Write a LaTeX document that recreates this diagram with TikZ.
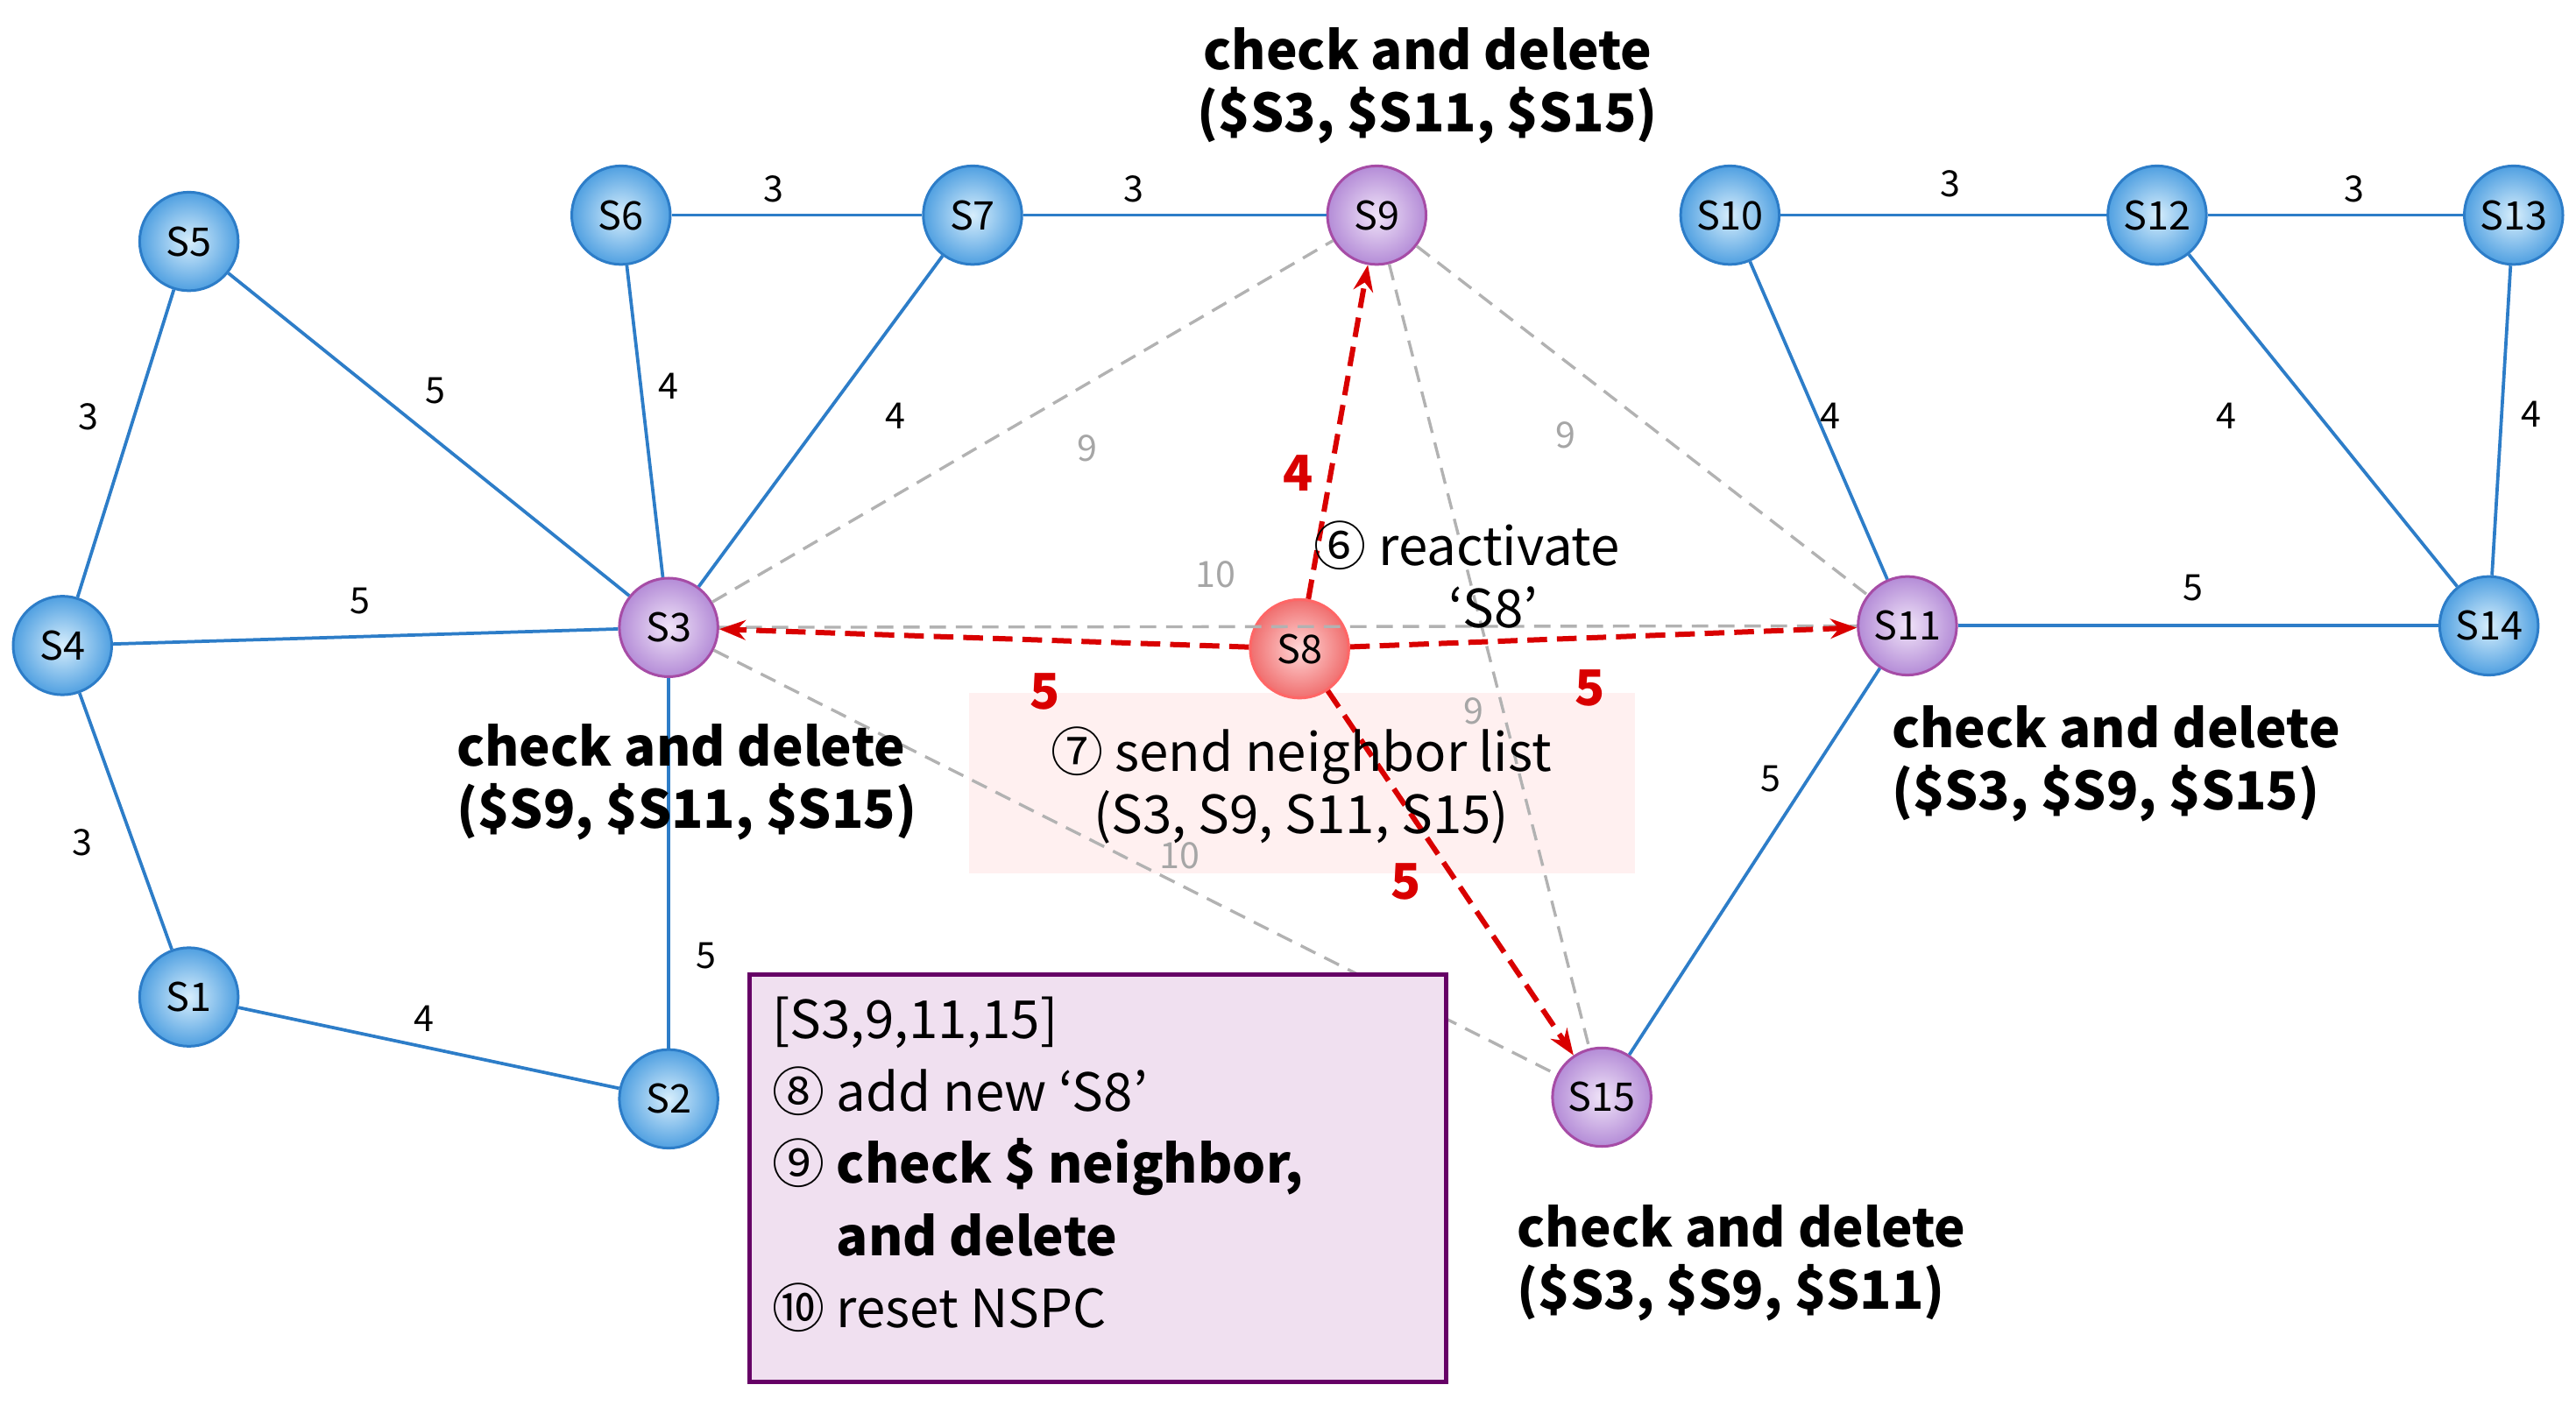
\documentclass[tikz,border=0pt]{standalone}
\usepackage{fontspec}
\setmainfont{Noto Sans CJK KR}
\usetikzlibrary{arrows.meta}
\definecolor{ln}{RGB}{45,125,200}
\definecolor{bin}{RGB}{215,238,252}
\definecolor{bout}{RGB}{80,160,225}
\definecolor{pin}{RGB}{240,228,248}
\definecolor{pout}{RGB}{180,140,215}
\definecolor{rin}{RGB}{255,215,215}
\definecolor{rout}{RGB}{240,110,110}
\begin{document}
\begin{tikzpicture}[x=0.5pt,y=-0.5pt,
 bn/.style={circle,minimum size=30pt,inner sep=0pt,draw=ln,line width=0.8pt,shading=radial,inner color=bin,outer color=bout,font=\fontsize{12}{12}\selectfont},
 pn/.style={bn,draw=violet!70,inner color=pin,outer color=pout},
 rn/.style={bn,draw=red!60,inner color=rin,outer color=rout},
 be/.style={draw=ln,line width=1pt},
 ge/.style={draw=gray!60,dash pattern=on 5pt off 3pt,line width=0.9pt},
 re/.style={draw=red!85!black,dash pattern=on 6pt off 3pt,line width=1.6pt,-{Stealth[length=8pt]}},
 el/.style={font=\fontsize{11}{11}\selectfont},
 gl/.style={font=\fontsize{11}{11}\selectfont,text=gray!70},
 rl/.style={font=\bfseries\fontsize{15}{15}\selectfont,text=red!85!black},
 cd/.style={font=\bfseries\fontsize{16}{19}\selectfont,align=left}]
\useasboundingbox (0,0) rectangle (1568,860);
\fill[red!6] (590,422) rectangle (995,532);
\node (S5) [bn] at (115,147) {S5};
\node (S6) [bn] at (378,131) {S6};
\node (S7) [bn] at (592,131) {S7};
\node (S9) [pn] at (838,131) {S9};
\node (S10) [bn] at (1053,131) {S10};
\node (S12) [bn] at (1313,131) {S12};
\node (S13) [bn] at (1530,131) {S13};
\node (S4) [bn] at (38,393) {S4};
\node (S3) [pn] at (407,382) {S3};
\node (S8) [rn] at (791,395) {S8};
\node (S11) [pn] at (1161,381) {S11};
\node (S14) [bn] at (1515,381) {S14};
\node (S1) [bn] at (115,607) {S1};
\node (S2) [bn] at (407,669) {S2};
\node (S15) [pn] at (975,668) {S15};
\draw[be] (S5)--(S4); \draw[be] (S5)--(S3); \draw[be] (S6)--(S7); \draw[be] (S6)--(S3);
\draw[be] (S7)--(S3); \draw[be] (S7)--(S9); \draw[be] (S4)--(S3); \draw[be] (S4)--(S1);
\draw[be] (S1)--(S2); \draw[be] (S3)--(S2); \draw[be] (S10)--(S12); \draw[be] (S12)--(S13);
\draw[be] (S10)--(S11); \draw[be] (S12)--(S14); \draw[be] (S13)--(S14); \draw[be] (S11)--(S14);
\draw[be] (S11)--(S15);
\draw[ge] (S3)--(S9); \draw[ge] (S9)--(S11); \draw[ge] (S3)--(S11); \draw[ge] (S9)--(S15); \draw[ge] (S3)--(S15);
\draw[re] (S8)--(S9); \draw[re] (S8)--(S3); \draw[re] (S8)--(S11); \draw[re] (S8)--(S15);
\node[el] (l1) at (54,254) {3}; \node[el] (l2) at (265,238) {5}; \node[el] (l3) at (471,115) {3};
\node[el] (l4) at (407,235) {4}; \node[el] (l5) at (545,253) {4}; \node[el] (l6) at (690,115) {3};
\node[el] (l7) at (219,366) {5}; \node[el] (l8) at (50,513) {3}; \node[el] (l9) at (258,620) {4};
\node[el] (l10) at (430,582) {5}; \node[el] (l11) at (1187,112) {3}; \node[el] (l12) at (1433,115) {3};
\node[el] (l13) at (1114,253) {4}; \node[el] (l14) at (1355,253) {4}; \node[el] (l15) at (1541,252) {4};
\node[el] (l16) at (1335,358) {5}; \node[el] (l17) at (1078,474) {5};
\node[gl] (g1) at (662,273) {9}; \node[gl] (g2) at (953,265) {9}; \node[gl] (g3) at (740,350) {10};
\node[gl] (g4) at (897,433) {9}; \node[gl] (g5) at (718,521) {10};
\node[rl] (r1) at (790,288) {4}; \node[rl] (r2) at (636,421) {5}; \node[rl] (r3) at (968,419) {5}; \node[rl] (r4) at (856,537) {5};
\node[cd,align=center] (c1) at (869,52) {check and delete\\(\$S3, \$S11, \$S15)};
\node[cd] (c2) at (418,476) {check and delete\\(\$S9, \$S11, \$S15)};
\node[cd] (c3) at (1288,465) {check and delete\\(\$S3, \$S9, \$S15)};
\node[cd] (c4) at (1060,769) {check and delete\\(\$S3, \$S9, \$S11)};
\node[font=\fontsize{16}{19}\selectfont,align=center] (t6) at (893,350) {⑥ reactivate\\\quad ‘S8’};
\node[font=\fontsize{16}{19}\selectfont,align=center] (t7) at (792,478) {⑦ send neighbor list\\(S3, S9, S11, S15)};
\node[draw=violet!80!black,line width=1.2pt,fill=violet!12,minimum width=212pt,minimum height=124pt,anchor=north west] (box) at (455,592) {};
\node[anchor=north west,font=\fontsize{16}{22}\selectfont,align=left] (bt) at (463,600) {[S3,9,11,15]\\⑧ add new ‘S8’\\⑨ \textbf{check \$ neighbor,}\\\phantom{⑨ }\textbf{and delete}\\⑩ reset NSPC};
\end{tikzpicture}
\end{document}
